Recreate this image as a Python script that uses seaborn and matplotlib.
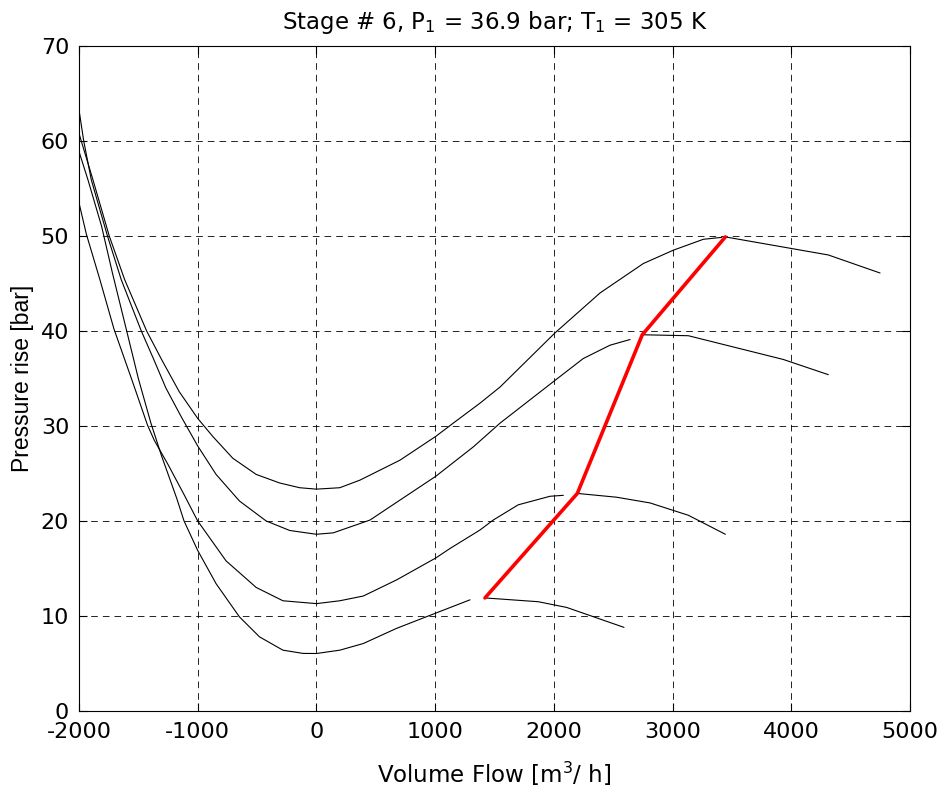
import numpy as np
import pandas as pd
import matplotlib
matplotlib.use('Agg')
import matplotlib.pyplot as plt
import seaborn as sns

sns.set_style('ticks')
plt.rcParams['font.family'] = ['DejaVu Sans']
plt.rcParams['axes.unicode_minus'] = False
plt.rcParams['text.color'] = 'black'
plt.rcParams['axes.labelcolor'] = 'black'

# speed lines (flow m3/h, pressure rise bar)
c1_flow = [-2000, -1924, -1809, -1720, -1598, -1500, -1394, -1303, -1177, -1115, -1000,
           -845, -648, -479, -282, -113, 0, 197, 395, 676, 1005, 1294]
c1_rise = [58.9, 55.9, 51.0, 46.2, 40.0, 35.0, 30.3, 26.8, 22.4, 20.0, 16.9,
           13.4, 9.9, 7.8, 6.4, 6.06, 6.05, 6.4, 7.1, 8.7, 10.3, 11.7]

c2_flow = [-2000, -1938, -1826, -1705, -1550, -1423, -1366, -1248, -1120, -1000, -761,
           -507, -282, 0, 197, 395, 676, 1005, 1125, 1378, 1490, 1700, 1968, 2080]
c2_rise = [53.5, 50.2, 45.5, 40.2, 34.7, 30.1, 28.5, 25.9, 22.9, 20.0, 15.8,
           13.0, 11.6, 11.3, 11.6, 12.1, 13.8, 16.1, 17.1, 19.05, 20.1, 21.7, 22.6, 22.7]

c3_flow = [-2000, -1960, -1896, -1760, -1644, -1475, -1370, -1268, -1140, -1000, -845,
           -648, -423, -225, 0, 142, 452, 620, 1005, 1322, 1547, 2010, 2248, 2473, 2642]
c3_rise = [63.3, 60.0, 55.9, 50.0, 45.4, 40.0, 37.0, 34.0, 31.0, 27.9, 24.9,
           22.1, 20.0, 19.0, 18.6, 18.75, 20.1, 21.5, 24.7, 27.8, 30.3, 34.8, 37.1, 38.5, 39.1]

c4_flow = [-2000, -1882, -1745, -1615, -1430, -1300, -1155, -1000, -873, -704, -507,
           -310, -141, 0, 197, 367, 704, 1005, 1153, 1378, 1547, 2010, 2389, 2754,
           3006, 3259, 3413]
c4_rise = [60.8, 55.9, 50.0, 45.4, 40.0, 36.9, 33.6, 30.8, 28.9, 26.6, 24.9,
           24.0, 23.5, 23.35, 23.5, 24.3, 26.4, 28.9, 30.3, 32.4, 34.1, 39.8, 44.0, 47.1,
           48.5, 49.65, 49.85]

# tails to the right of the operating line
t1_flow = [1420, 1869, 2108, 2591]
t1_rise = [11.9, 11.5, 10.9, 8.8]
t2_flow = [2198, 2529, 2810, 3133, 3445]
t2_rise = [22.9, 22.5, 21.9, 20.6, 18.6]
t3_flow = [2745, 3133, 3933, 4312]
t3_rise = [39.6, 39.5, 37.0, 35.4]
t4_flow = [3445, 4312, 4748]
t4_rise = [49.9, 48.0, 46.1]

# operating line (red)
op_flow = [1420, 2198, 2745, 3445]
op_rise = [11.9, 22.9, 39.6, 49.9]

x_ticks = [-2000, -1000, 0, 1000, 2000, 3000, 4000, 5000]
y_ticks = [0, 10, 20, 30, 40, 50, 60, 70]

fig, ax = plt.subplots(figsize=(9.39, 7.87), dpi=100)
fig.subplots_adjust(left=0.0841, right=0.9691, bottom=0.0966, top=0.9416)

lines = [(c1_flow, c1_rise), (c2_flow, c2_rise), (c3_flow, c3_rise), (c4_flow, c4_rise),
         (t1_flow, t1_rise), (t2_flow, t2_rise), (t3_flow, t3_rise), (t4_flow, t4_rise)]
for fx, fy in lines:
    df = pd.DataFrame({'flow': fx, 'rise': fy})
    sns.lineplot(data=df, x='flow', y='rise', ax=ax, color='black', linewidth=0.8,
                 sort=False, estimator=None)

df_op = pd.DataFrame({'flow': op_flow, 'rise': op_rise})
sns.lineplot(data=df_op, x='flow', y='rise', ax=ax, color='red', linewidth=2.6,
             sort=False, estimator=None)

ax.set_xlim(-2000, 5000)
ax.set_ylim(0, 70)
ax.set_xticks(x_ticks)
ax.set_yticks(y_ticks)
ax.set_axisbelow(True)
ax.grid(True, color='black', linestyle=(0, (8, 6)), linewidth=0.6)
ax.tick_params(direction='in', top=True, right=True, length=6, width=0.8,
               labelsize=16, colors='black')
ax.tick_params(axis='x', pad=8)
ax.tick_params(axis='y', pad=7)
for sp in ax.spines.values():
    sp.set_visible(True)
    sp.set_linewidth(0.8)
    sp.set_color('black')

ax.set_title('Stage # 6, P$_1$ = 36.9 bar; T$_1$ = 305 K', fontsize=16.5, pad=12)
ax.set_xlabel('Volume Flow [m$^3$/ h]', fontsize=16.5, labelpad=13)
ax.set_ylabel('Pressure rise [bar]', fontsize=16.5, family='Liberation Sans', labelpad=5)

fig.savefig('out.png', dpi=100)
